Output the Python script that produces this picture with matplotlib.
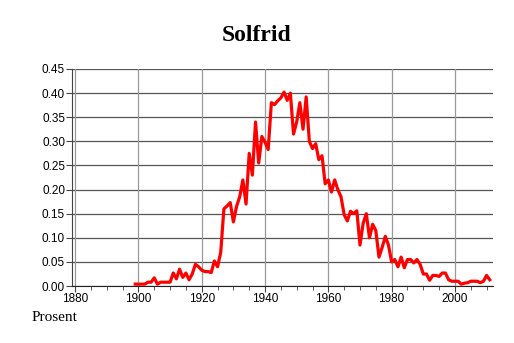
import numpy as np
import matplotlib.pyplot as plt

years = list(range(1899, 2012))
values = [0.004, 0.004, 0.004, 0.004, 0.008, 0.008, 0.017, 0.004, 0.008, 0.008,
          0.008, 0.008, 0.027, 0.015, 0.035, 0.018, 0.027, 0.013, 0.025, 0.045,
          0.040, 0.033, 0.030, 0.030, 0.028, 0.052, 0.040, 0.070, 0.160, 0.166,
          0.173, 0.133, 0.165, 0.185, 0.220, 0.170, 0.275, 0.230, 0.340, 0.255,
          0.310, 0.298, 0.283, 0.380, 0.376, 0.384, 0.390, 0.402, 0.385, 0.400,
          0.315, 0.340, 0.380, 0.325, 0.392, 0.300, 0.285, 0.295, 0.262, 0.270,
          0.212, 0.220, 0.195, 0.220, 0.200, 0.185, 0.148, 0.135, 0.155, 0.150,
          0.156, 0.085, 0.130, 0.150, 0.100, 0.128, 0.115, 0.060, 0.080, 0.103,
          0.085, 0.050, 0.055, 0.040, 0.060, 0.038, 0.055, 0.055, 0.048, 0.055,
          0.045, 0.025, 0.025, 0.012, 0.022, 0.022, 0.020, 0.027, 0.027, 0.013,
          0.010, 0.010, 0.010, 0.004, 0.006, 0.007, 0.010, 0.010, 0.010, 0.007,
          0.010, 0.022, 0.013]

xticks = [1880, 1900, 1920, 1940, 1960, 1980, 2000]
yticks = np.arange(0, 0.451, 0.05)

fig = plt.figure(figsize=(5.14, 3.43), dpi=100)
ax = fig.add_axes([0.14, 0.166, 0.819, 0.633])

for y in yticks:
    ax.axhline(y, color='#555555', lw=0.9, zorder=1)
for x in xticks:
    ax.axvline(x, color='#999999', lw=0.9, zorder=1)

ax.plot(years, values, color='#ff0000', lw=2.3, zorder=3)

ax.set_xlim(1879, 2012)
ax.set_ylim(0, 0.45)
ax.set_xticks(xticks)
ax.set_xticks(range(1880, 2012, 5), minor=True)
ax.set_yticks(yticks)
ax.set_yticklabels(['%.2f' % v for v in yticks])
ax.tick_params(labelsize=8.5, length=4, color='#444444', pad=1)
ax.tick_params(which='minor', length=3, color='#444444')
for lab in ax.get_xticklabels() + ax.get_yticklabels():
    lab.set_family('Liberation Sans')

ax.spines['top'].set_visible(False)
ax.spines['right'].set_visible(False)
ax.spines['left'].set_color('#444444')
ax.spines['bottom'].set_color('#222222')

fig.text(0.5, 0.897, 'Solfrid', ha='center', va='center', fontsize=17,
         fontweight='bold', family='Liberation Serif')
fig.text(0.062, 0.073, 'Prosent', ha='left', va='center', fontsize=11,
         family='Liberation Serif')

fig.savefig('out.png', dpi=100)
